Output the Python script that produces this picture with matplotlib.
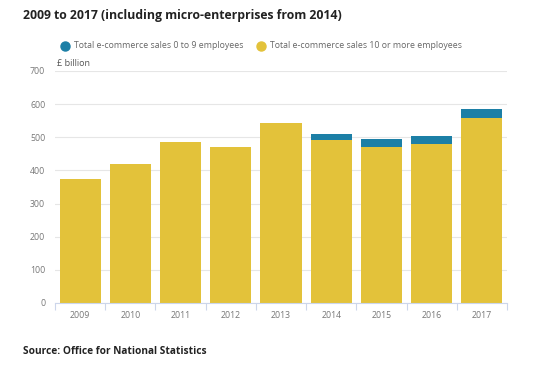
import matplotlib.pyplot as plt
import numpy as np

plt.rcParams['font.family'] = ['Open Sans', 'DejaVu Sans']

years = ["2009", "2010", "2011", "2012", "2013", "2014", "2015", "2016", "2017"]
large = [374, 418, 485, 470, 542, 493, 472, 481, 558]
micro = [0, 0, 0, 0, 0, 18, 23, 22, 26]

yellow = "#e3c23a"
blue = "#1c7fa6"

fig = plt.figure(figsize=(5.44, 3.68), dpi=100)
ax = fig.add_axes([55 / 544, 65 / 368, 452 / 544, 232 / 368])

x = np.arange(len(years))
ax.bar(x, large, width=0.82, color=yellow, zorder=2)
ax.bar(x, micro, width=0.82, bottom=large, color=blue, zorder=2)

ax.set_xlim(-0.5, len(years) - 0.5)
ax.set_ylim(0, 700)
ax.set_yticks(range(0, 701, 100))
ax.yaxis.grid(True, color="#e6e6e6", linewidth=0.8, zorder=0)
ax.set_xticks(x)
ax.set_xticklabels(years)
ax.set_xticks(np.arange(-0.5, len(years), 1), minor=True)
ax.tick_params(axis="x", which="major", length=0, labelsize=6.3, labelcolor="#777777", pad=6)
ax.tick_params(axis="x", which="minor", length=5, color="#ccd6eb", width=0.8)
ax.tick_params(axis="y", length=0, labelsize=6.3, labelcolor="#777777", pad=7)
for s in ["top", "right", "left"]:
    ax.spines[s].set_visible(False)
ax.spines["bottom"].set_color("#ccd6eb")
ax.spines["bottom"].set_linewidth(0.8)

fig.text(23 / 544, 1 - 15 / 368, "2009 to 2017 (including micro-enterprises from 2014)",
         fontsize=8.8, fontweight="bold", color="#222222", va="center")
fig.text(57 / 544, 1 - 64 / 368, "£ billion", fontsize=6.5, color="#555555", va="center")
fig.text(23 / 544, 1 - 352 / 368, "Source: Office for National Statistics",
         fontsize=7.3, fontweight="bold", color="#222222", va="center")

# legend
ly = 1 - 46 / 368
fig.lines.append(plt.Line2D([65 / 544], [ly], marker="o", markersize=6.5, color=blue,
                            transform=fig.transFigure, linestyle="none"))
fig.text(74 / 544, ly, "Total e-commerce sales 0 to 9 employees", fontsize=6.3,
         color="#666666", va="center")
fig.lines.append(plt.Line2D([261 / 544], [ly], marker="o", markersize=6.5, color=yellow,
                            transform=fig.transFigure, linestyle="none"))
fig.text(270 / 544, ly, "Total e-commerce sales 10 or more employees", fontsize=6.3,
         color="#666666", va="center")

fig.savefig("out.png", dpi=100)
